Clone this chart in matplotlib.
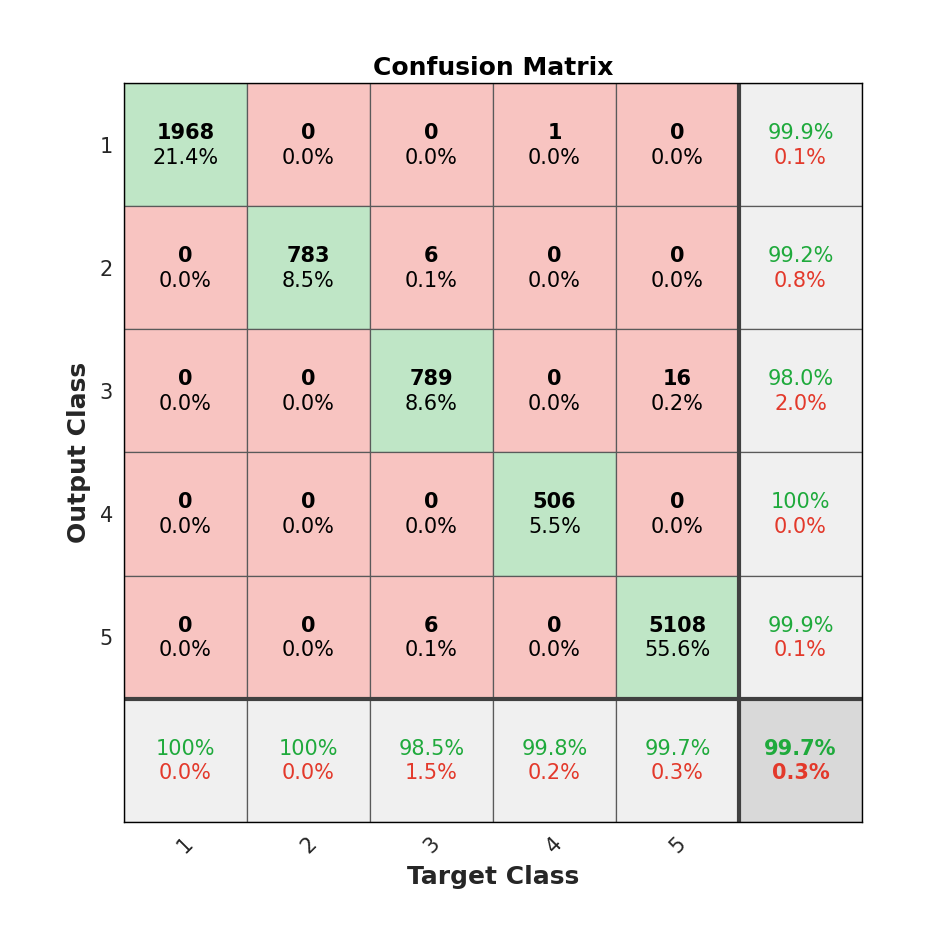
import numpy as np
import matplotlib
matplotlib.use("Agg")
import matplotlib.pyplot as plt
from matplotlib.patches import Rectangle

# Confusion matrix counts (rows = output class, columns = target class)
classes = ["1", "2", "3", "4", "5"]
counts = np.array([
    [1968, 0, 0, 1, 0],
    [0, 783, 6, 0, 0],
    [0, 0, 789, 0, 16],
    [0, 0, 0, 506, 0],
    [0, 0, 6, 0, 5108],
])

# colours
green_cell = "#bfe6c6"
red_cell = "#f8c4c1"
gray_cell = "#f0f0f0"
dark_cell = "#d9d9d9"
green_txt = "#1faa3c"
red_txt = "#e3392b"


def pct(v):
    if round(v, 1) >= 100:
        return "100%"
    return "{:.1f}%".format(v)


def cell(ax, x, y, color, top, bottom, c_top="black", c_bot="black", w_top="bold", w_bot="normal"):
    ax.add_patch(Rectangle((x, y), 1, 1, facecolor=color, edgecolor="#5a5a5a", lw=0.9))
    ax.text(x + 0.5, y + 0.405, top, ha="center", va="center", fontsize=fs,
            fontweight=w_top, color=c_top)
    ax.text(x + 0.5, y + 0.605, bottom, ha="center", va="center", fontsize=fs,
            fontweight=w_bot, color=c_bot)


n = len(classes)
total = counts.sum()
fs = 15

fig = plt.figure(figsize=(9.53, 9.38), dpi=100)
ax = fig.add_axes([124 / 953, 1 - 822 / 938, 738 / 953, 739 / 938])

for i in range(n):
    for j in range(n):
        c = green_cell if i == j else red_cell
        cell(ax, j, i, c, str(counts[i, j]), pct(100 * counts[i, j] / total))

# row summaries (precision)
for i in range(n):
    good = 100 * counts[i, i] / counts[i].sum()
    cell(ax, n, i, gray_cell, pct(good), pct(100 - good), green_txt, red_txt, "normal")

# column summaries (recall)
for j in range(n):
    good = 100 * counts[j, j] / counts[:, j].sum()
    cell(ax, j, n, gray_cell, pct(good), pct(100 - good), green_txt, red_txt, "normal")

# overall accuracy
acc = 100 * np.trace(counts) / total
cell(ax, n, n, dark_cell, pct(acc), pct(100 - acc), green_txt, red_txt, "bold", "bold")

# thick separators
ax.axvline(n, color="#404040", lw=3)
ax.axhline(n, color="#404040", lw=3)

ax.set_xlim(0, n + 1)
ax.set_ylim(n + 1, 0)
ax.set_xticks(np.arange(n) + 0.5)
ax.set_xticklabels(classes, rotation=45, fontsize=fs, color="#262626")
ax.set_yticks(np.arange(n) + 0.5)
ax.set_yticklabels(classes, fontsize=fs, color="#262626")
ax.tick_params(length=0, pad=8)
for s in ax.spines.values():
    s.set_color("black")
    s.set_linewidth(1)

ax.set_xlabel("Target Class", fontsize=18, fontweight="bold", color="#262626", labelpad=6)
ax.set_ylabel("Output Class", fontsize=18, fontweight="bold", color="#262626", labelpad=6)
ax.set_title("Confusion Matrix", fontsize=18, fontweight="bold", pad=6)

fig.savefig("out.png", dpi=100)
